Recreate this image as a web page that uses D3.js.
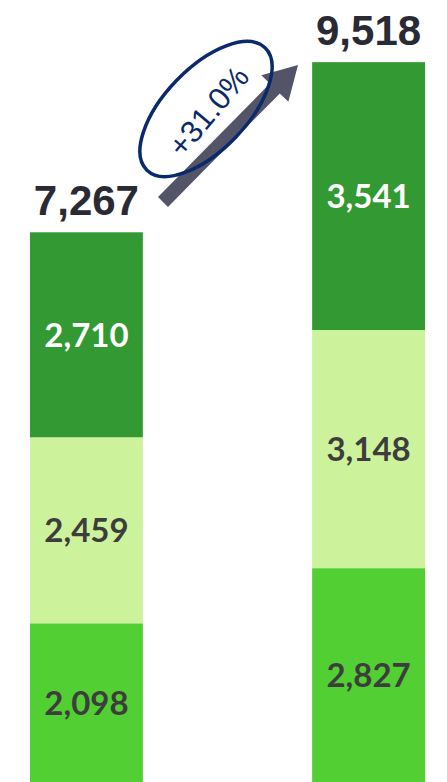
<!DOCTYPE html>
<html>
<head>
<meta charset="utf-8">
<script src="https://cdn.jsdelivr.net/npm/d3@7"></script>
<style>
  html, body { margin: 0; padding: 0; background: #ffffff; }
  svg { display: block; }
</style>
</head>
<body>
<div id="chart"></div>
<script>
// ---- data ----
const categories = ["Before", "After"];
const seriesNames = ["Bottom", "Middle", "Top"];
const bottomValues = [2098, 2827];
const middleValues = [2459, 3148];
const topValues = [2710, 3541];
const totalLabels = ["7,267", "9,518"];
const growthLabel = "+31.0%";

const W = 447, H = 782;
const colors = ["#52cf32", "#cdf29c", "#339933"];
const labelColors = ["#3d3d3d", "#3d3d3d", "#ffffff"];

const svg = d3.select("#chart").append("svg")
  .attr("width", W).attr("height", H);

const rows = categories.map((c, i) => ({
  cat: c, Bottom: bottomValues[i], Middle: middleValues[i], Top: topValues[i]
}));
const stack = d3.stack().keys(seriesNames)(rows);

const x = d3.scaleBand().domain(categories).range([30, 425]).paddingInner(0.6).paddingOuter(0);
const y = d3.scaleLinear().domain([0, 9518]).range([782, 62]);

// growth arrow (behind ellipse)
const ax0 = 163, ay0 = 202, ax1 = 298, ay1 = 65;
const ang = Math.atan2(ay1 - ay0, ax1 - ax0);
const len = Math.hypot(ax1 - ax0, ay1 - ay0);
const sw = 7, hw = 19, hl = 33;
const g = svg.append("g")
  .attr("transform", `translate(${ax0},${ay0}) rotate(${ang * 180 / Math.PI})`);
g.append("path")
  .attr("d", `M0,${-sw}L${len - hl},${-sw}L${len - hl},${-hw}L${len},0L${len - hl},${hw}L${len - hl},${sw}L0,${sw}Z`)
  .attr("fill", "#545468");

// ellipse with growth label
const eg = svg.append("g").attr("transform", "translate(206,109) rotate(-46)");
eg.append("ellipse")
  .attr("rx", 85).attr("ry", 41)
  .attr("fill", "none")
  .attr("stroke", "#0b2a6b")
  .attr("stroke-width", 3.5);
eg.append("text")
  .attr("text-anchor", "middle")
  .attr("dy", "0.36em")
  .attr("transform", "translate(0,3) rotate(-4)")
  .attr("font-family", "'Liberation Sans', Arial, sans-serif")
  .attr("font-size", 31)
  .attr("fill", "#0b2a6b")
  .text(growthLabel);

const layers = svg.selectAll("g.layer").data(stack).enter().append("g")
  .attr("class", "layer").attr("fill", (d, i) => colors[i]);

layers.selectAll("rect").data(d => d).enter().append("rect")
  .attr("x", d => x(d.data.cat))
  .attr("width", x.bandwidth())
  .attr("y", d => y(d[1]))
  .attr("height", d => y(d[0]) - y(d[1]));

layers.each(function(layer, li) {
  d3.select(this).selectAll("text").data(layer).enter().append("text")
    .attr("x", d => x(d.data.cat) + x.bandwidth() / 2)
    .attr("y", d => (y(d[0]) + y(d[1])) / 2)
    .attr("dy", "0.36em")
    .attr("text-anchor", "middle")
    .attr("font-family", "Lato, 'Open Sans', sans-serif")
    .attr("font-weight", 700)
    .attr("font-size", 33)
    .attr("fill", labelColors[li])
    .text(d => d3.format(",")(d[1] - d[0]));
});

// totals
const totals = stack[stack.length - 1];
svg.selectAll("text.total").data(totals).enter().append("text")
  .attr("class", "total")
  .attr("x", d => x(d.data.cat) + x.bandwidth() / 2)
  .attr("y", d => y(d[1]) - 17)
  .attr("text-anchor", "middle")
  .attr("font-family", "'Liberation Sans', Arial, sans-serif")
  .attr("font-weight", 700)
  .attr("font-size", 42)
  .attr("fill", "#2a2a35")
  .text((d, i) => totalLabels[i]);
</script>
</body>
</html>
